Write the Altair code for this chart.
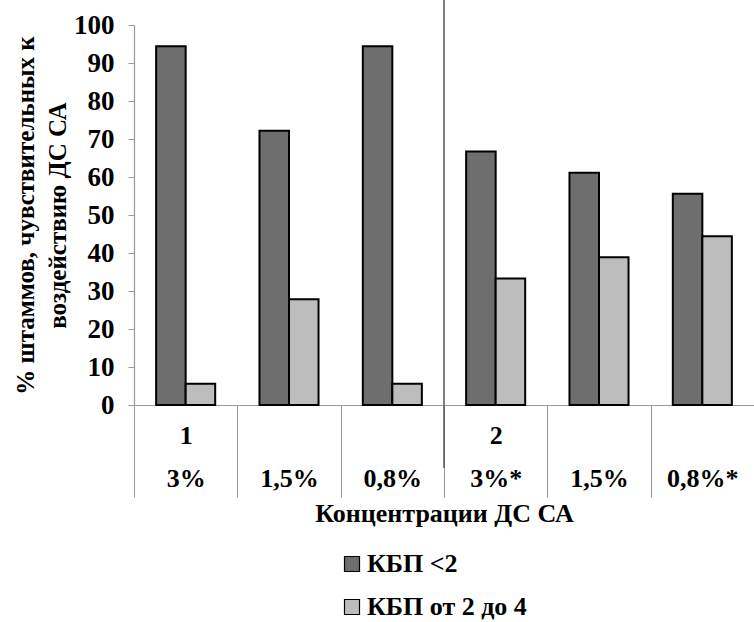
import altair as alt
import pandas as pd

groups = ["1", "", "", "2", "", ""]
concs = ["3%", "1,5%", "0,8%", "3%*", "1,5%", "0,8%*"]
series = ["КБП <2", "КБП от 2 до 4"]
kbp_lt2 = [94.4, 72.2, 94.4, 66.7, 61.1, 55.6]
kbp_2_4 = [5.6, 27.8, 5.6, 33.3, 38.9, 44.4]

keys = [f"{i}|{g}|{c}" for i, (g, c) in enumerate(zip(groups, concs))]
rows = []
for k, a, b in zip(keys, kbp_lt2, kbp_2_4):
    rows.append({"cat": k, "series": series[0], "value": a})
    rows.append({"cat": k, "series": series[1], "value": b})
df = pd.DataFrame(rows)

FONT = "Liberation Serif"
txt = dict(labelFont=FONT, labelFontWeight="bold", labelFontSize=26, labelColor="black")
ttl = dict(titleFont=FONT, titleFontWeight="bold", titleFontSize=26, titleColor="black")

xscale = alt.Scale(domain=keys, paddingInner=0, paddingOuter=0)

bars = alt.Chart(df).mark_bar(stroke="black", strokeWidth=2).encode(
    x=alt.X("cat:N", scale=xscale, sort=keys,
            axis=alt.Axis(title="Концентрации ДС СА", labelAngle=0,
                          labelExpr="[split(datum.value,'|')[1], split(datum.value,'|')[2]]",
                          labelLineHeight=43, labelPadding=-75, labelBaseline="top",
                          tickSize=92, tickBand="extent", tickColor="#999", tickWidth=1,
                          domainColor="#999", domainWidth=1.2, titlePadding=3,
                          **txt, **ttl)),
    xOffset=alt.XOffset("series:N", sort=series,
                        scale=alt.Scale(paddingOuter=0.75, paddingInner=0)),
    y=alt.Y("value:Q", scale=alt.Scale(domain=[0, 100]),
            axis=alt.Axis(title=["% штаммов, чувствительных к", "воздействию ДС СА"],
                          values=list(range(0, 101, 10)), grid=False,
                          tickSize=6, labelPadding=14, tickColor="#999",
                          domainColor="#999", domainWidth=1.2,
                          titleLineHeight=32, titlePadding=3,
                          labelFont=FONT, labelFontWeight="bold", labelFontSize=27,
                          labelColor="black",
                          titleFont=FONT, titleFontWeight="bold", titleFontSize=25,
                          titleColor="black")),
    fill=alt.Fill("series:N", sort=series,
                  scale=alt.Scale(domain=series, range=["#6e6e6e", "#bdbdbd"]),
                  legend=alt.Legend(title=None, orient="none", legendX=205, legendY=526,
                                    direction="vertical", symbolType="square",
                                    symbolSize=225, symbolStrokeColor="black",
                                    symbolStrokeWidth=1.2, rowPadding=17,
                                    labelOffset=2, padding=0, **txt)),
)

sep = alt.Chart(pd.DataFrame({"cat": [keys[3]]})).mark_rule(
    color="#555", strokeWidth=1.5).encode(
    x=alt.X("cat:N", scale=xscale, bandPosition=0),
    y=alt.value(-25),
    y2=alt.value(443),
)

chart = alt.layer(bars, sep).properties(
    width=620, height=380,
    autosize=alt.AutoSizeParams(type="none"),
    padding={"left": 134, "top": 25, "right": 0, "bottom": 217},
).configure(font=FONT).configure_view(stroke=None)

chart.save("out.html", embed_options={"renderer": "svg", "actions": False})
